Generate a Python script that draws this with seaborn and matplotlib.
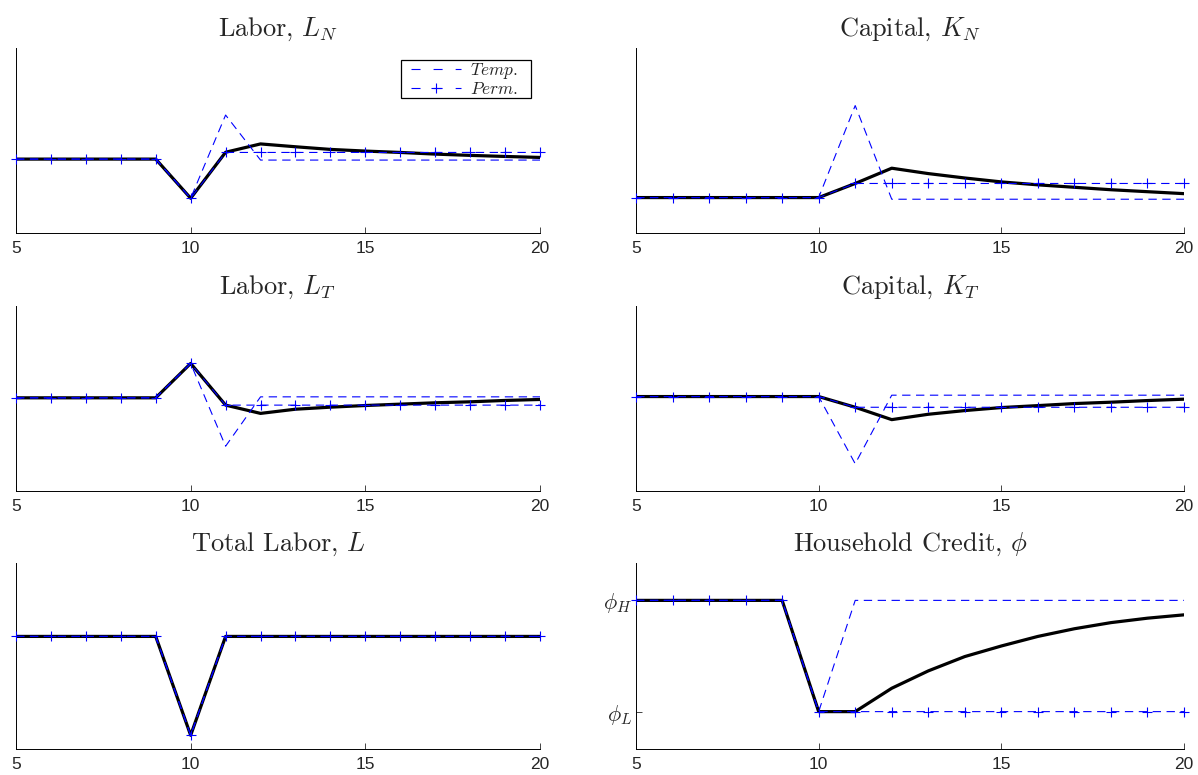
import matplotlib
matplotlib.use("Agg")
import matplotlib.pyplot as plt
from matplotlib.lines import Line2D
from matplotlib.patches import Rectangle
from matplotlib.transforms import IdentityTransform
import seaborn as sns
import numpy as np

# ---------------- data ----------------
t = list(range(5, 21))

LN_solid = [0, 0, 0, 0, 0, -40, 7, 15.5, 12.6, 9.9, 8.2, 6.8, 5.1, 3.8, 2.7, 1.7]
LN_temp = [0, 0, 0, 0, 0, -40, 45] + [-1] * 9
LN_perm = [0, 0, 0, 0, 0, -40] + [6.8] * 10

KN_solid = [0] * 6 + [14.4, 30, 24.5, 20, 16, 13, 10.5, 8, 6, 4]
KN_temp = [0] * 6 + [94] + [-1.7] * 9
KN_perm = [0] * 6 + [14.4] * 10

LT_solid = [0] * 5 + [35.3, -7.5, -16, -11.7, -9.6, -7.9, -6.5, -5.1, -4.1, -2.7, -1.7]
LT_temp = [0] * 5 + [35.3, -49.7] + [1] * 9
LT_perm = [0] * 5 + [35.3] + [-7.5] * 10

KT_solid = [0] * 6 + [-11, -23.7, -18.2, -14.4, -11.3, -9.3, -7.2, -5.8, -4.1, -2.7]
KT_temp = [0] * 6 + [-69] + [1.4] * 9
KT_perm = [0] * 6 + [-11] * 10

L_solid = [0] * 5 + [-101] + [0] * 10
L_temp = [0] * 5 + [-101] + [0] * 10
L_perm = [0] * 5 + [-101] + [0] * 10

PHI_solid = [1] * 5 + [0, 0, 0.21, 0.366, 0.495, 0.59, 0.676, 0.745, 0.8, 0.84, 0.87]
PHI_temp = [1] * 5 + [0] + [1] * 10
PHI_perm = [1] * 5 + [0] * 11

titles = [r"Labor, $L_N$", r"Capital, $K_N$",
          r"Labor, $L_T$", r"Capital, $K_T$",
          r"Total Labor, $L$", r"Household Credit, $\phi$"]
legend_labels = [r"$Temp.$", r"$Perm.$"]
xticks = [5, 10, 15, 20]
phi_ticks = [0, 1]
phi_ticklabels = [r"$\phi_L$", r"$\phi_H$"]

series = [(LN_solid, LN_temp, LN_perm), (KN_solid, KN_temp, KN_perm),
          (LT_solid, LT_temp, LT_perm), (KT_solid, KT_temp, KT_perm),
          (L_solid, L_temp, L_perm), (PHI_solid, PHI_temp, PHI_perm)]
ylims = [(-75.5, 113.5), (-36.2, 152.8), (-95.7, 94.3), (-97, 93),
         (-115, 75), (-0.336, 1.336)]

# ---------------- style ----------------
sns.set_style("white")
plt.rcParams["font.family"] = ["Liberation Sans", "DejaVu Sans"]
plt.rcParams["mathtext.fontset"] = "cm"
plt.rcParams["lines.scale_dashes"] = False
plt.rcParams["axes.unicode_minus"] = False

fig = plt.figure(figsize=(11.98, 7.75), dpi=100)
W, H = 1198, 775
col_x = [(16, 540), (636, 1184)]
row_y = [(48, 233), (306, 491), (563, 749)]

dash = (0, (6, 4))
blue = (0, 0, 1)
axes = []
leg = None
for i in range(6):
    r, c = divmod(i, 2)
    x0, x1 = col_x[c]
    y0, y1 = row_y[r]
    ax = fig.add_axes([x0 / W, 1 - y1 / H, (x1 - x0) / W, (y1 - y0) / H])
    axes.append(ax)
    s, tmp, prm = series[i]
    sns.lineplot(x=t, y=s, ax=ax, color="black", linewidth=2.3, zorder=2)
    sns.lineplot(x=t, y=tmp, ax=ax, color=blue, linewidth=0.8, linestyle=dash, zorder=3)
    sns.lineplot(x=t, y=prm, ax=ax, color=blue, linewidth=0.8, linestyle=dash,
                 marker="+", markersize=7, markeredgewidth=0.8, markeredgecolor=blue,
                 zorder=4, clip_on=False)
    ax.set_xlim(5, 20)
    ax.set_ylim(*ylims[i])
    ax.set_xticks(xticks)
    ax.set_xticklabels([str(v) for v in xticks], fontsize=12.5)
    ax.tick_params(axis="x", direction="in", length=4, width=0.6, pad=6, bottom=True)
    if i == 5:
        ax.set_yticks(phi_ticks)
        ax.set_yticklabels(phi_ticklabels, fontsize=16)
        ax.tick_params(axis="y", direction="in", length=4, width=0.6, pad=3, left=True)
    else:
        ax.set_yticks([])
    for sp in ["top", "right"]:
        ax.spines[sp].set_visible(False)
    for sp in ["left", "bottom"]:
        ax.spines[sp].set_color("black")
        ax.spines[sp].set_linewidth(0.7)
    ax.set_title(titles[i], fontsize=19, pad=9, family="cmr10")
    ax.set_xlabel("")
    ax.set_ylabel("")
    if i == 0:
        lstyle = (0, (6.5, 9.4))
        handles = [Line2D([], [], color=blue, linewidth=0.8, linestyle=lstyle),
                   Line2D([], [], color=blue, linewidth=0.8, linestyle=lstyle,
                          marker="+", markersize=7, markeredgewidth=0.8)]
        leg = ax.legend(handles, legend_labels, loc="upper right",
                        bbox_to_anchor=(0.958, 0.93), fontsize=12.5,
                        frameon=False, handlelength=2.88, handletextpad=0.52,
                        borderpad=0.0, labelspacing=0.0, numpoints=1,
                        borderaxespad=0)
        leg.set_zorder(10)

# legend frame with Matlab-like uneven padding, sized from the legend's own extent
fig.canvas.draw()
bb = leg.get_window_extent(fig.canvas.get_renderer())
padl, padr, padv = 10, 13, 1
frame = Rectangle((bb.x0 - padl, bb.y0 - padv), bb.width + padl + padr, bb.height + 2 * padv,
                  transform=IdentityTransform(), fill=True, facecolor="white",
                  edgecolor="black", linewidth=0.9, zorder=9)
axes[0].add_artist(frame)
frame.set_clip_on(False)
fig.savefig("out.png", dpi=100)
